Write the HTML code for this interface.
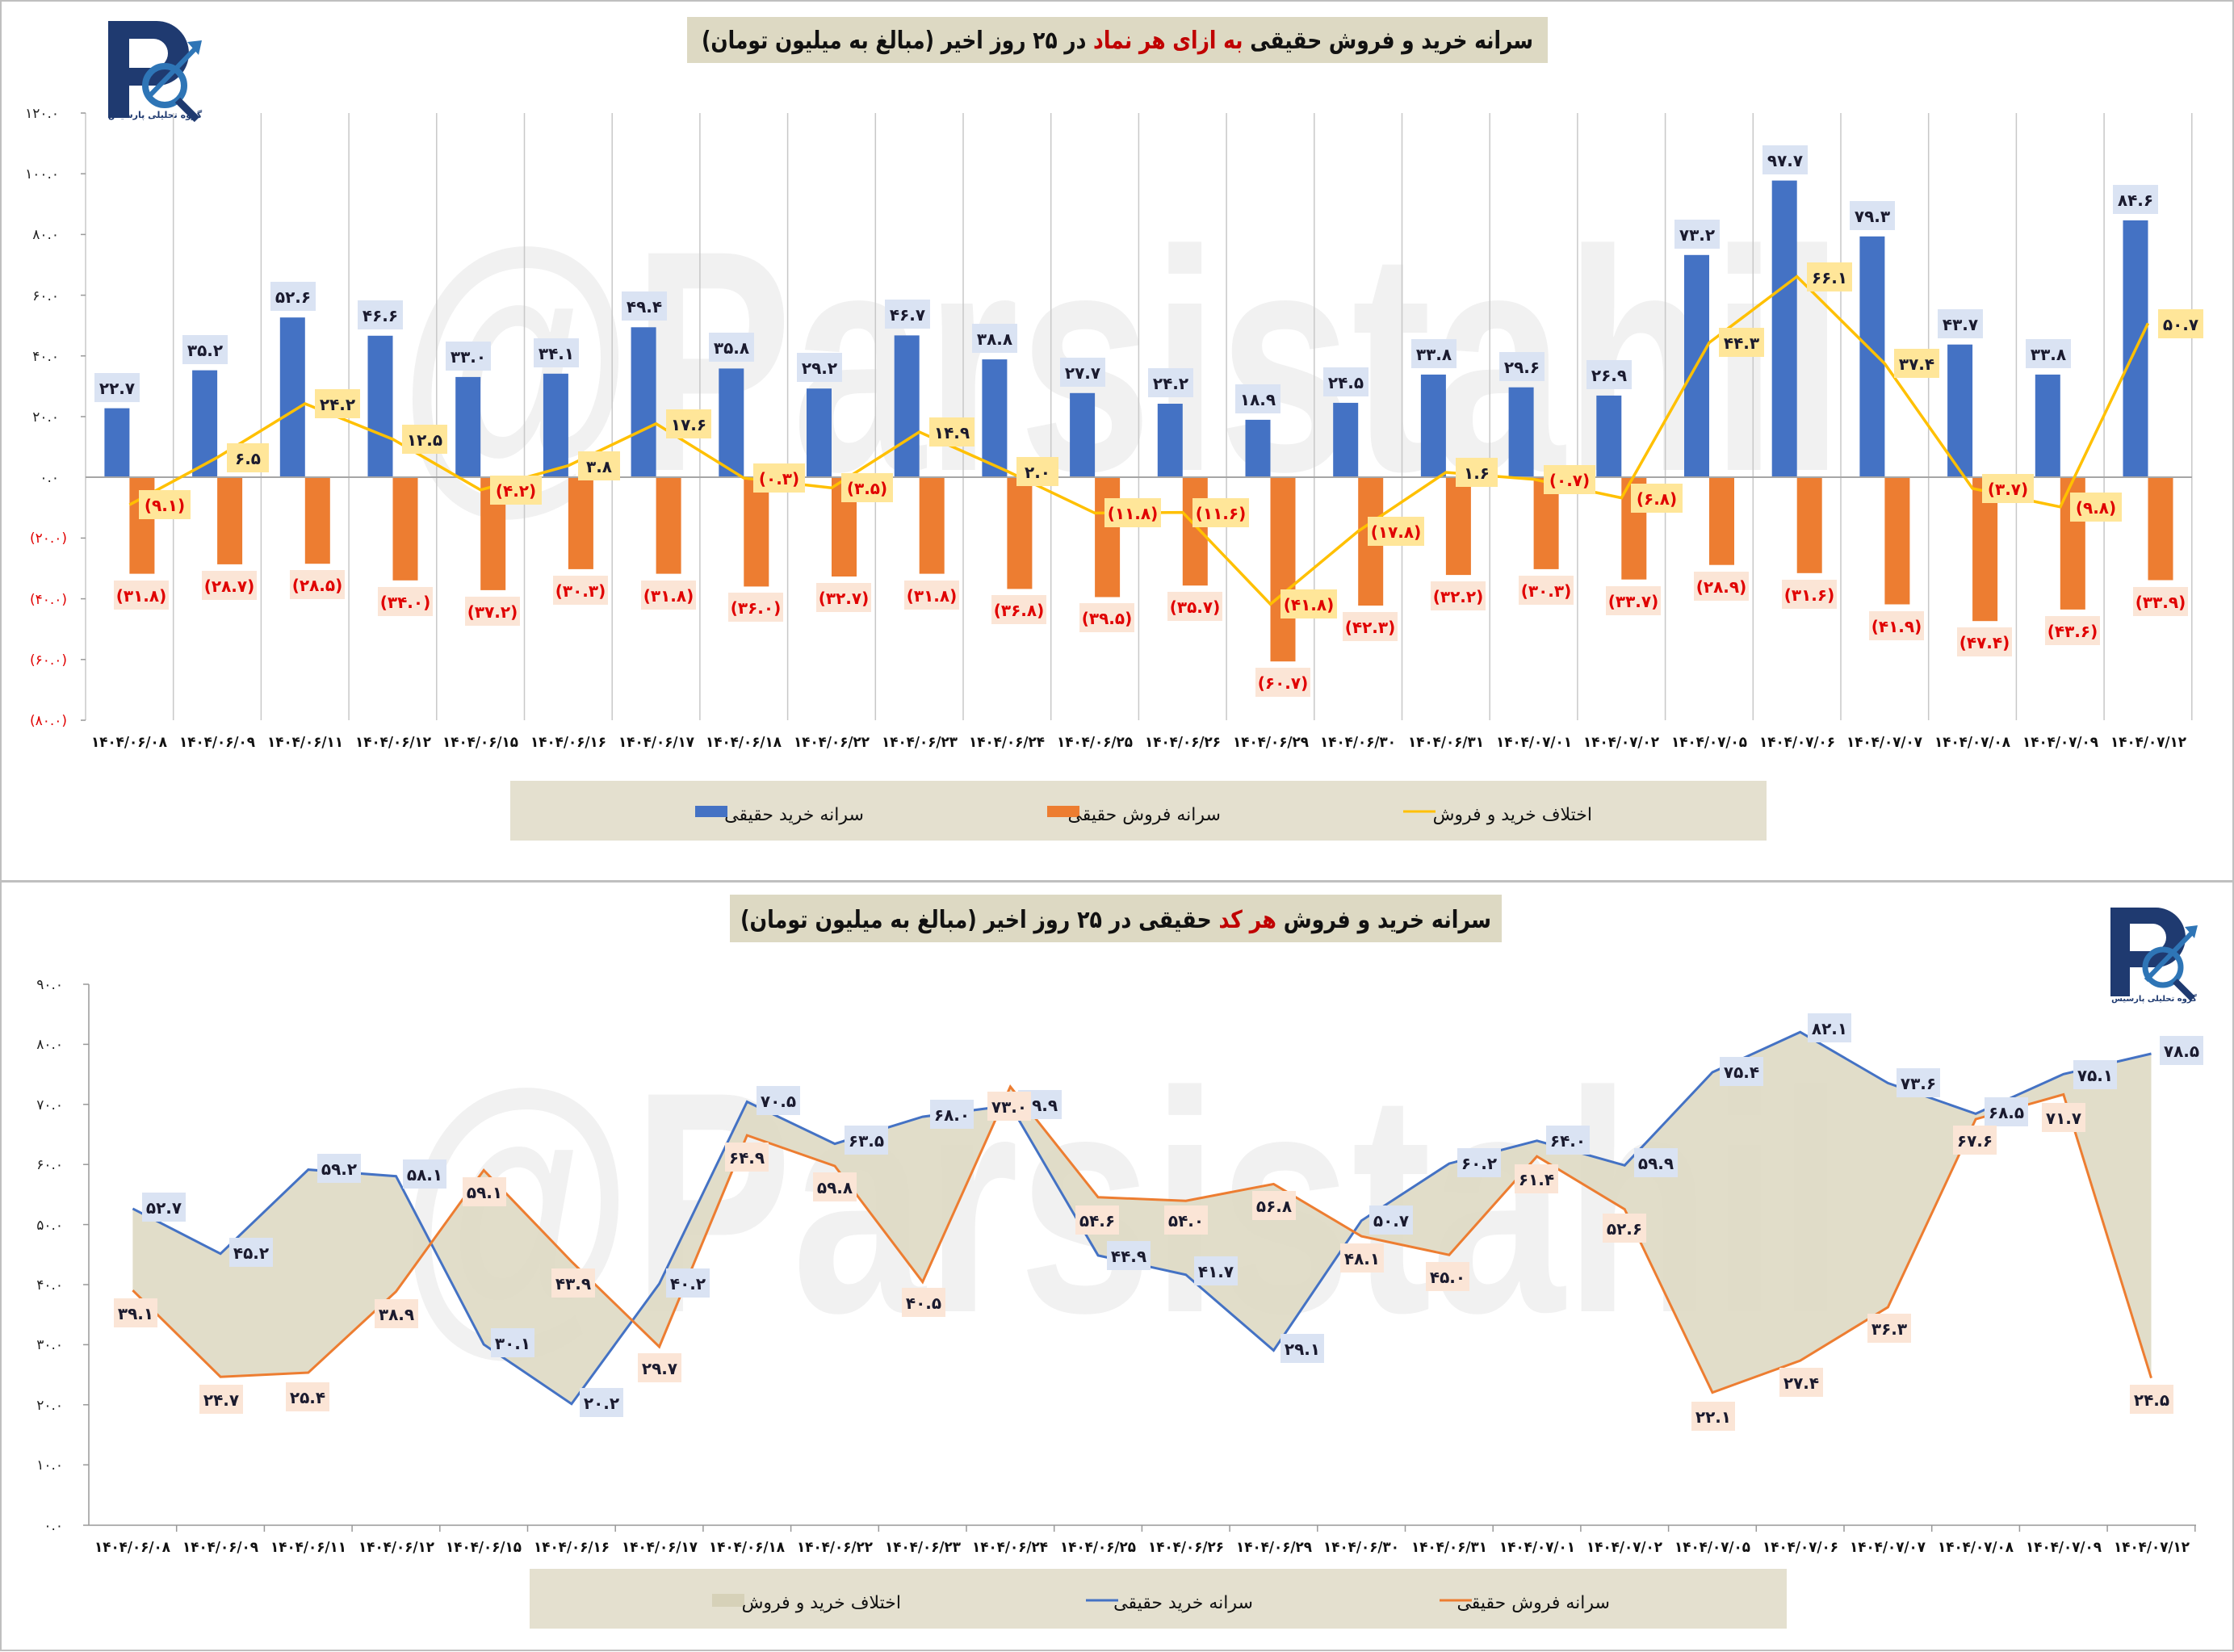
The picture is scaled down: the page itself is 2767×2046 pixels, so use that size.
<!DOCTYPE html>
<html><head><meta charset="utf-8">
<style>
html,body{margin:0;padding:0;background:#fff;}
svg{display:block;}
text{font-family:"DejaVu Sans","Liberation Sans","Noto Sans CJK SC",sans-serif;font-weight:bold;}
.bl{fill:#4472c4}.or{fill:#ed7d31}
.lb{fill:#dae3f3}.lo{fill:#fbe5d6}.ly{fill:#ffe699}
.tb{font-size:20px;fill:#1a1a2e;text-anchor:middle}
.tr{font-size:20px;fill:#e00000;text-anchor:middle}
.td{font-size:18px;fill:#111;text-anchor:start}
.ya{font-size:17px;fill:#222;text-anchor:end;font-weight:normal}
.yr{font-size:17px;fill:#e00000;text-anchor:end;font-weight:normal}
.wm{font-family:"Liberation Sans",sans-serif;font-size:390px;fill:#f1f1f1;font-weight:bold}
.lg{font-size:22px;fill:#111;font-weight:normal}
</style></head><body>
<svg width="2767" height="2046" viewBox="0 0 2767 2046" xmlns="http://www.w3.org/2000/svg">
<rect x="1" y="1" width="2765" height="1090" fill="#fff" stroke="#bfbfbf" stroke-width="2"/>
<rect x="1" y="1092" width="2765" height="952" fill="#fff" stroke="#bfbfbf" stroke-width="2"/>

<text class="wm" x="494" y="582" textLength="1790" lengthAdjust="spacingAndGlyphs">@Parsistahil</text>
<text class="wm" x="494" y="1624" textLength="1790" lengthAdjust="spacingAndGlyphs">@Parsistahil</text>

<!-- ===== TOP CHART ===== -->
<rect x="851" y="21" width="1066" height="57" fill="#ddd9c3"/>
<text x="1384" y="60" direction="rtl" text-anchor="middle" font-size="30" fill="#111" textLength="1030" lengthAdjust="spacingAndGlyphs">سرانه خرید و فروش حقیقی <tspan fill="#c00000">به ازای هر نماد</tspan> در ۲۵ روز اخیر (مبالغ به میلیون تومان)</text>

<g transform="translate(132,22)">
<rect x="2" y="4" width="26" height="120" fill="#1f3a70"/>
<path d="M28 4 H62 A40 40 0 0 1 62 84 H28 V62 H58 A18 18 0 0 0 58 26 H28Z" fill="#1f3a70"/>
<circle cx="72" cy="84" r="24" fill="none" stroke="#2e75b6" stroke-width="8"/>
<path d="M50 100 L112 36" stroke="#2e75b6" stroke-width="6"/><path d="M100 30 L118 28 L114 46Z" fill="#2e75b6"/>
<path d="M88 102 L112 126" stroke="#1f3a70" stroke-width="9"/>
<text x="60" y="124" font-size="11" fill="#1f3a70" text-anchor="middle" direction="rtl">گروه تحلیلی پارسیس</text>
</g>

<g stroke="#c8c8c8" stroke-width="1.5">
<line x1="106" y1="140" x2="106" y2="892"/><line x1="214.7" y1="140" x2="214.7" y2="892"/><line x1="323.4" y1="140" x2="323.4" y2="892"/><line x1="432.1" y1="140" x2="432.1" y2="892"/><line x1="540.8" y1="140" x2="540.8" y2="892"/><line x1="649.5" y1="140" x2="649.5" y2="892"/><line x1="758.2" y1="140" x2="758.2" y2="892"/><line x1="866.9" y1="140" x2="866.9" y2="892"/><line x1="975.6" y1="140" x2="975.6" y2="892"/><line x1="1084.3" y1="140" x2="1084.3" y2="892"/><line x1="1193" y1="140" x2="1193" y2="892"/><line x1="1301.7" y1="140" x2="1301.7" y2="892"/><line x1="1410.4" y1="140" x2="1410.4" y2="892"/><line x1="1519.1" y1="140" x2="1519.1" y2="892"/><line x1="1627.8" y1="140" x2="1627.8" y2="892"/><line x1="1736.5" y1="140" x2="1736.5" y2="892"/><line x1="1845.2" y1="140" x2="1845.2" y2="892"/><line x1="1953.9" y1="140" x2="1953.9" y2="892"/><line x1="2062.6" y1="140" x2="2062.6" y2="892"/><line x1="2171.3" y1="140" x2="2171.3" y2="892"/><line x1="2280" y1="140" x2="2280" y2="892"/><line x1="2388.7" y1="140" x2="2388.7" y2="892"/><line x1="2497.4" y1="140" x2="2497.4" y2="892"/><line x1="2606.1" y1="140" x2="2606.1" y2="892"/><line x1="2714.8" y1="140" x2="2714.8" y2="892"/>
</g>
<g stroke="#999" stroke-width="1.5">
<line x1="100" y1="140" x2="106" y2="140"/><line x1="100" y1="215.2" x2="106" y2="215.2"/><line x1="100" y1="290.4" x2="106" y2="290.4"/><line x1="100" y1="365.6" x2="106" y2="365.6"/><line x1="100" y1="440.8" x2="106" y2="440.8"/><line x1="100" y1="516" x2="106" y2="516"/><line x1="100" y1="666.4" x2="106" y2="666.4"/><line x1="100" y1="741.6" x2="106" y2="741.6"/><line x1="100" y1="816.8" x2="106" y2="816.8"/><line x1="100" y1="892" x2="106" y2="892"/>
</g>
<text class="ya" x="73" y="146">۱۲۰.۰</text>
<text class="ya" x="73" y="221">۱۰۰.۰</text>
<text class="ya" x="73" y="296">۸۰.۰</text>
<text class="ya" x="73" y="372">۶۰.۰</text>
<text class="ya" x="73" y="447">۴۰.۰</text>
<text class="ya" x="73" y="522">۲۰.۰</text>
<text class="ya" x="73" y="597">۰.۰</text>
<text class="yr" x="83" y="672">(۲۰.۰)</text>
<text class="yr" x="83" y="748">(۴۰.۰)</text>
<text class="yr" x="83" y="823">(۶۰.۰)</text>
<text class="yr" x="83" y="898">(۸۰.۰)</text>

<g class="bl">
<rect x="129.4" y="505.6" width="31" height="85.4"/><rect x="238.1" y="458.6" width="31" height="132.4"/><rect x="346.8" y="393.2" width="31" height="197.8"/><rect x="455.5" y="415.8" width="31" height="175.2"/><rect x="564.2" y="466.9" width="31" height="124.1"/><rect x="672.9" y="462.8" width="31" height="128.2"/><rect x="781.6" y="405.3" width="31" height="185.7"/><rect x="890.3" y="456.4" width="31" height="134.6"/><rect x="999" y="481.2" width="31" height="109.8"/><rect x="1107.7" y="415.4" width="31" height="175.6"/><rect x="1216.4" y="445.1" width="31" height="145.9"/><rect x="1325.1" y="486.8" width="31" height="104.2"/><rect x="1433.8" y="500" width="31" height="91"/><rect x="1542.5" y="519.9" width="31" height="71.1"/><rect x="1651.2" y="498.9" width="31" height="92.1"/><rect x="1759.9" y="463.9" width="31" height="127.1"/><rect x="1868.6" y="479.7" width="31" height="111.3"/><rect x="1977.3" y="489.9" width="31" height="101.1"/><rect x="2086" y="315.8" width="31" height="275.2"/><rect x="2194.7" y="223.6" width="31" height="367.4"/><rect x="2303.4" y="292.8" width="31" height="298.2"/><rect x="2412.1" y="426.7" width="31" height="164.3"/><rect x="2520.8" y="463.9" width="31" height="127.1"/><rect x="2629.5" y="272.9" width="31" height="318.1"/>
</g>
<g class="or">
<rect x="160.4" y="591" width="31" height="119.6"/><rect x="269.1" y="591" width="31" height="107.9"/><rect x="377.8" y="591" width="31" height="107.2"/><rect x="486.5" y="591" width="31" height="127.8"/><rect x="595.2" y="591" width="31" height="139.9"/><rect x="703.9" y="591" width="31" height="113.9"/><rect x="812.6" y="591" width="31" height="119.6"/><rect x="921.3" y="591" width="31" height="135.4"/><rect x="1030" y="591" width="31" height="123"/><rect x="1138.7" y="591" width="31" height="119.6"/><rect x="1247.4" y="591" width="31" height="138.4"/><rect x="1356.1" y="591" width="31" height="148.5"/><rect x="1464.8" y="591" width="31" height="134.2"/><rect x="1573.5" y="591" width="31" height="228.2"/><rect x="1682.2" y="591" width="31" height="159"/><rect x="1790.9" y="591" width="31" height="121.1"/><rect x="1899.6" y="591" width="31" height="113.9"/><rect x="2008.3" y="591" width="31" height="126.7"/><rect x="2117" y="591" width="31" height="108.7"/><rect x="2225.7" y="591" width="31" height="118.8"/><rect x="2334.4" y="591" width="31" height="157.5"/><rect x="2443.1" y="591" width="31" height="178.2"/><rect x="2551.8" y="591" width="31" height="163.9"/><rect x="2660.5" y="591" width="31" height="127.5"/>
</g>
<line x1="106" y1="591" x2="2715" y2="591" stroke="#a6a6a6" stroke-width="2"/>

<polyline fill="none" stroke="#ffc000" stroke-width="3.5" points="160.4,625.2 269.1,566.6 377.8,500 486.5,544 595.2,606.8 703.9,576.7 812.6,524.8 921.3,592.1 1030,604.2 1138.7,535 1247.4,583.5 1356.1,635.4 1464.8,634.6 1573.5,748.2 1682.2,657.9 1790.9,585 1899.6,593.6 2008.3,616.6 2117,424.4 2225.7,342.5 2334.4,450.4 2443.1,604.9 2551.8,627.8 2660.5,400.4"/>

<g>
<rect class="lb" x="117" y="462" width="56" height="36"/><text class="tb" x="145" y="488">۲۲.۷</text>
<rect class="lb" x="226" y="415" width="56" height="36"/><text class="tb" x="254" y="441">۳۵.۲</text>
<rect class="lb" x="335" y="349" width="56" height="36"/><text class="tb" x="363" y="375">۵۲.۶</text>
<rect class="lb" x="443" y="372" width="56" height="36"/><text class="tb" x="471" y="398">۴۶.۶</text>
<rect class="lb" x="552" y="423" width="56" height="36"/><text class="tb" x="580" y="449">۳۳.۰</text>
<rect class="lb" x="661" y="419" width="56" height="36"/><text class="tb" x="689" y="445">۳۴.۱</text>
<rect class="lb" x="770" y="361" width="56" height="36"/><text class="tb" x="798" y="387">۴۹.۴</text>
<rect class="lb" x="878" y="412" width="56" height="36"/><text class="tb" x="906" y="438">۳۵.۸</text>
<rect class="lb" x="987" y="437" width="56" height="36"/><text class="tb" x="1015" y="463">۲۹.۲</text>
<rect class="lb" x="1096" y="371" width="56" height="36"/><text class="tb" x="1124" y="397">۴۶.۷</text>
<rect class="lb" x="1204" y="401" width="56" height="36"/><text class="tb" x="1232" y="427">۳۸.۸</text>
<rect class="lb" x="1313" y="443" width="56" height="36"/><text class="tb" x="1341" y="469">۲۷.۷</text>
<rect class="lb" x="1422" y="456" width="56" height="36"/><text class="tb" x="1450" y="482">۲۴.۲</text>
<rect class="lb" x="1530" y="476" width="56" height="36"/><text class="tb" x="1558" y="502">۱۸.۹</text>
<rect class="lb" x="1639" y="455" width="56" height="36"/><text class="tb" x="1667" y="481">۲۴.۵</text>
<rect class="lb" x="1748" y="420" width="56" height="36"/><text class="tb" x="1776" y="446">۳۳.۸</text>
<rect class="lb" x="1857" y="436" width="56" height="36"/><text class="tb" x="1885" y="462">۲۹.۶</text>
<rect class="lb" x="1965" y="446" width="56" height="36"/><text class="tb" x="1993" y="472">۲۶.۹</text>
<rect class="lb" x="2074" y="272" width="56" height="36"/><text class="tb" x="2102" y="298">۷۳.۲</text>
<rect class="lb" x="2183" y="180" width="56" height="36"/><text class="tb" x="2211" y="206">۹۷.۷</text>
<rect class="lb" x="2291" y="249" width="56" height="36"/><text class="tb" x="2319" y="275">۷۹.۳</text>
<rect class="lb" x="2400" y="383" width="56" height="36"/><text class="tb" x="2428" y="409">۴۳.۷</text>
<rect class="lb" x="2509" y="420" width="56" height="36"/><text class="tb" x="2537" y="446">۳۳.۸</text>
<rect class="lb" x="2617" y="229" width="56" height="36"/><text class="tb" x="2645" y="255">۸۴.۶</text>
</g>
<g>
<rect class="lo" x="141" y="719" width="68" height="36"/><text class="tr" x="175" y="745">(۳۱.۸)</text>
<rect class="lo" x="250" y="707" width="68" height="36"/><text class="tr" x="284" y="733">(۲۸.۷)</text>
<rect class="lo" x="359" y="706" width="68" height="36"/><text class="tr" x="393" y="732">(۲۸.۵)</text>
<rect class="lo" x="468" y="727" width="68" height="36"/><text class="tr" x="502" y="753">(۳۴.۰)</text>
<rect class="lo" x="576" y="739" width="68" height="36"/><text class="tr" x="610" y="765">(۳۷.۲)</text>
<rect class="lo" x="685" y="713" width="68" height="36"/><text class="tr" x="719" y="739">(۳۰.۳)</text>
<rect class="lo" x="794" y="719" width="68" height="36"/><text class="tr" x="828" y="745">(۳۱.۸)</text>
<rect class="lo" x="902" y="734" width="68" height="36"/><text class="tr" x="936" y="760">(۳۶.۰)</text>
<rect class="lo" x="1011" y="722" width="68" height="36"/><text class="tr" x="1045" y="748">(۳۲.۷)</text>
<rect class="lo" x="1120" y="719" width="68" height="36"/><text class="tr" x="1154" y="745">(۳۱.۸)</text>
<rect class="lo" x="1228" y="737" width="68" height="36"/><text class="tr" x="1262" y="763">(۳۶.۸)</text>
<rect class="lo" x="1337" y="747" width="68" height="36"/><text class="tr" x="1371" y="773">(۳۹.۵)</text>
<rect class="lo" x="1446" y="733" width="68" height="36"/><text class="tr" x="1480" y="759">(۳۵.۷)</text>
<rect class="lo" x="1555" y="827" width="68" height="36"/><text class="tr" x="1589" y="853">(۶۰.۷)</text>
<rect class="lo" x="1663" y="758" width="68" height="36"/><text class="tr" x="1697" y="784">(۴۲.۳)</text>
<rect class="lo" x="1772" y="720" width="68" height="36"/><text class="tr" x="1806" y="746">(۳۲.۲)</text>
<rect class="lo" x="1881" y="713" width="68" height="36"/><text class="tr" x="1915" y="739">(۳۰.۳)</text>
<rect class="lo" x="1989" y="726" width="68" height="36"/><text class="tr" x="2023" y="752">(۳۳.۷)</text>
<rect class="lo" x="2098" y="708" width="68" height="36"/><text class="tr" x="2132" y="734">(۲۸.۹)</text>
<rect class="lo" x="2207" y="718" width="68" height="36"/><text class="tr" x="2241" y="744">(۳۱.۶)</text>
<rect class="lo" x="2315" y="757" width="68" height="36"/><text class="tr" x="2349" y="783">(۴۱.۹)</text>
<rect class="lo" x="2424" y="777" width="68" height="36"/><text class="tr" x="2458" y="803">(۴۷.۴)</text>
<rect class="lo" x="2533" y="763" width="68" height="36"/><text class="tr" x="2567" y="789">(۴۳.۶)</text>
<rect class="lo" x="2642" y="727" width="68" height="36"/><text class="tr" x="2676" y="753">(۳۳.۹)</text>
</g>
<g>
<rect class="ly" x="172" y="607" width="64" height="36"/><text class="tr" x="204" y="633">(۹.۱)</text>
<rect class="ly" x="281" y="549" width="52" height="36"/><text class="tb" x="307" y="575">۶.۵</text>
<rect class="ly" x="390" y="482" width="56" height="36"/><text class="tb" x="418" y="508">۲۴.۲</text>
<rect class="ly" x="498" y="526" width="56" height="36"/><text class="tb" x="526" y="552">۱۲.۵</text>
<rect class="ly" x="607" y="589" width="64" height="36"/><text class="tr" x="639" y="615">(۴.۲)</text>
<rect class="ly" x="716" y="559" width="52" height="36"/><text class="tb" x="742" y="585">۳.۸</text>
<rect class="ly" x="825" y="507" width="56" height="36"/><text class="tb" x="853" y="533">۱۷.۶</text>
<rect class="ly" x="933" y="574" width="64" height="36"/><text class="tr" x="965" y="600">(۰.۳)</text>
<rect class="ly" x="1042" y="586" width="64" height="36"/><text class="tr" x="1074" y="612">(۳.۵)</text>
<rect class="ly" x="1151" y="517" width="56" height="36"/><text class="tb" x="1179" y="543">۱۴.۹</text>
<rect class="ly" x="1259" y="566" width="52" height="36"/><text class="tb" x="1285" y="592">۲.۰</text>
<rect class="ly" x="1368" y="617" width="70" height="36"/><text class="tr" x="1403" y="643">(۱۱.۸)</text>
<rect class="ly" x="1477" y="617" width="70" height="36"/><text class="tr" x="1512" y="643">(۱۱.۶)</text>
<rect class="ly" x="1586" y="730" width="70" height="36"/><text class="tr" x="1621" y="756">(۴۱.۸)</text>
<rect class="ly" x="1694" y="640" width="70" height="36"/><text class="tr" x="1729" y="666">(۱۷.۸)</text>
<rect class="ly" x="1803" y="567" width="52" height="36"/><text class="tb" x="1829" y="593">۱.۶</text>
<rect class="ly" x="1912" y="576" width="64" height="36"/><text class="tr" x="1944" y="602">(۰.۷)</text>
<rect class="ly" x="2020" y="599" width="64" height="36"/><text class="tr" x="2052" y="625">(۶.۸)</text>
<rect class="ly" x="2129" y="406" width="56" height="36"/><text class="tb" x="2157" y="432">۴۴.۳</text>
<rect class="ly" x="2238" y="325" width="56" height="36"/><text class="tb" x="2266" y="351">۶۶.۱</text>
<rect class="ly" x="2346" y="432" width="56" height="36"/><text class="tb" x="2374" y="458">۳۷.۴</text>
<rect class="ly" x="2455" y="587" width="64" height="36"/><text class="tr" x="2487" y="613">(۳.۷)</text>
<rect class="ly" x="2564" y="610" width="64" height="36"/><text class="tr" x="2596" y="636">(۹.۸)</text>
<rect class="ly" x="2673" y="383" width="56" height="36"/><text class="tb" x="2701" y="409">۵۰.۷</text>
</g>

<g>
<text class="td" textLength="94" lengthAdjust="spacingAndGlyphs" x="113" y="925">۱۴۰۴/۰۶/۰۸</text><text class="td" textLength="94" lengthAdjust="spacingAndGlyphs" x="222" y="925">۱۴۰۴/۰۶/۰۹</text><text class="td" textLength="94" lengthAdjust="spacingAndGlyphs" x="331" y="925">۱۴۰۴/۰۶/۱۱</text><text class="td" textLength="94" lengthAdjust="spacingAndGlyphs" x="440" y="925">۱۴۰۴/۰۶/۱۲</text><text class="td" textLength="94" lengthAdjust="spacingAndGlyphs" x="548" y="925">۱۴۰۴/۰۶/۱۵</text><text class="td" textLength="94" lengthAdjust="spacingAndGlyphs" x="657" y="925">۱۴۰۴/۰۶/۱۶</text><text class="td" textLength="94" lengthAdjust="spacingAndGlyphs" x="766" y="925">۱۴۰۴/۰۶/۱۷</text><text class="td" textLength="94" lengthAdjust="spacingAndGlyphs" x="874" y="925">۱۴۰۴/۰۶/۱۸</text><text class="td" textLength="94" lengthAdjust="spacingAndGlyphs" x="983" y="925">۱۴۰۴/۰۶/۲۲</text><text class="td" textLength="94" lengthAdjust="spacingAndGlyphs" x="1092" y="925">۱۴۰۴/۰۶/۲۳</text><text class="td" textLength="94" lengthAdjust="spacingAndGlyphs" x="1200" y="925">۱۴۰۴/۰۶/۲۴</text><text class="td" textLength="94" lengthAdjust="spacingAndGlyphs" x="1309" y="925">۱۴۰۴/۰۶/۲۵</text><text class="td" textLength="94" lengthAdjust="spacingAndGlyphs" x="1418" y="925">۱۴۰۴/۰۶/۲۶</text><text class="td" textLength="94" lengthAdjust="spacingAndGlyphs" x="1527" y="925">۱۴۰۴/۰۶/۲۹</text><text class="td" textLength="94" lengthAdjust="spacingAndGlyphs" x="1635" y="925">۱۴۰۴/۰۶/۳۰</text><text class="td" textLength="94" lengthAdjust="spacingAndGlyphs" x="1744" y="925">۱۴۰۴/۰۶/۳۱</text><text class="td" textLength="94" lengthAdjust="spacingAndGlyphs" x="1853" y="925">۱۴۰۴/۰۷/۰۱</text><text class="td" textLength="94" lengthAdjust="spacingAndGlyphs" x="1961" y="925">۱۴۰۴/۰۷/۰۲</text><text class="td" textLength="94" lengthAdjust="spacingAndGlyphs" x="2070" y="925">۱۴۰۴/۰۷/۰۵</text><text class="td" textLength="94" lengthAdjust="spacingAndGlyphs" x="2179" y="925">۱۴۰۴/۰۷/۰۶</text><text class="td" textLength="94" lengthAdjust="spacingAndGlyphs" x="2287" y="925">۱۴۰۴/۰۷/۰۷</text><text class="td" textLength="94" lengthAdjust="spacingAndGlyphs" x="2396" y="925">۱۴۰۴/۰۷/۰۸</text><text class="td" textLength="94" lengthAdjust="spacingAndGlyphs" x="2505" y="925">۱۴۰۴/۰۷/۰۹</text><text class="td" textLength="94" lengthAdjust="spacingAndGlyphs" x="2614" y="925">۱۴۰۴/۰۷/۱۲</text>
</g>

<rect x="632" y="967" width="1556" height="74" fill="#e4e0cf"/>
<rect x="861" y="998" width="40" height="14" fill="#4472c4"/>
<text class="lg" x="1070" y="1016" direction="rtl">سرانه خرید حقیقی</text>
<rect x="1297" y="998" width="40" height="14" fill="#ed7d31"/>
<text class="lg" x="1512" y="1016" direction="rtl">سرانه فروش حقیقی</text>
<line x1="1738" y1="1005" x2="1778" y2="1005" stroke="#ffc000" stroke-width="3"/>
<text class="lg" x="1972" y="1016" direction="rtl">اختلاف خرید و فروش</text>

<!-- ===== BOTTOM CHART ===== -->
<rect x="904" y="1108" width="956" height="59" fill="#ddd9c3"/>
<text x="1382" y="1149" direction="rtl" text-anchor="middle" font-size="30" fill="#111" textLength="930" lengthAdjust="spacingAndGlyphs">سرانه خرید و فروش <tspan fill="#c00000">هر کد</tspan> حقیقی در ۲۵ روز اخیر (مبالغ به میلیون تومان)</text>

<g transform="translate(2612,1120)">
<rect x="2" y="4" width="24" height="110" fill="#1f3a70"/>
<path d="M26 4 H58 A37 37 0 0 1 58 78 H26 V58 H54 A17 17 0 0 0 54 24 H26Z" fill="#1f3a70"/>
<circle cx="67" cy="78" r="22" fill="none" stroke="#2e75b6" stroke-width="7"/>
<path d="M46 94 L104 34" stroke="#2e75b6" stroke-width="6"/><path d="M94 28 L110 26 L106 42Z" fill="#2e75b6"/>
<path d="M82 95 L104 117" stroke="#1f3a70" stroke-width="8"/>
<text x="56" y="120" font-size="10" fill="#1f3a70" text-anchor="middle" direction="rtl">گروه تحلیلی پارسیس</text>
</g>

<g stroke="#999" stroke-width="1.5">
<line x1="110" y1="1219" x2="110" y2="1889"/><line x1="110" y1="1889" x2="2720" y2="1889"/>
<line x1="103" y1="1219" x2="110" y2="1219"/><line x1="103" y1="1293.4" x2="110" y2="1293.4"/><line x1="103" y1="1367.8" x2="110" y2="1367.8"/><line x1="103" y1="1442.2" x2="110" y2="1442.2"/><line x1="103" y1="1516.6" x2="110" y2="1516.6"/><line x1="103" y1="1591" x2="110" y2="1591"/><line x1="103" y1="1665.4" x2="110" y2="1665.4"/><line x1="103" y1="1739.8" x2="110" y2="1739.8"/><line x1="103" y1="1814.2" x2="110" y2="1814.2"/><line x1="103" y1="1889" x2="110" y2="1889"/>
<line x1="218.7" y1="1889" x2="218.7" y2="1897"/><line x1="327.4" y1="1889" x2="327.4" y2="1897"/><line x1="436.1" y1="1889" x2="436.1" y2="1897"/><line x1="544.8" y1="1889" x2="544.8" y2="1897"/><line x1="653.5" y1="1889" x2="653.5" y2="1897"/><line x1="762.2" y1="1889" x2="762.2" y2="1897"/><line x1="870.9" y1="1889" x2="870.9" y2="1897"/><line x1="979.6" y1="1889" x2="979.6" y2="1897"/><line x1="1088.3" y1="1889" x2="1088.3" y2="1897"/><line x1="1197" y1="1889" x2="1197" y2="1897"/><line x1="1305.7" y1="1889" x2="1305.7" y2="1897"/><line x1="1414.4" y1="1889" x2="1414.4" y2="1897"/><line x1="1523.1" y1="1889" x2="1523.1" y2="1897"/><line x1="1631.8" y1="1889" x2="1631.8" y2="1897"/><line x1="1740.5" y1="1889" x2="1740.5" y2="1897"/><line x1="1849.2" y1="1889" x2="1849.2" y2="1897"/><line x1="1957.9" y1="1889" x2="1957.9" y2="1897"/><line x1="2066.6" y1="1889" x2="2066.6" y2="1897"/><line x1="2175.3" y1="1889" x2="2175.3" y2="1897"/><line x1="2284" y1="1889" x2="2284" y2="1897"/><line x1="2392.7" y1="1889" x2="2392.7" y2="1897"/><line x1="2501.4" y1="1889" x2="2501.4" y2="1897"/><line x1="2610.1" y1="1889" x2="2610.1" y2="1897"/><line x1="2718.8" y1="1889" x2="2718.8" y2="1897"/>
</g>
<text class="ya" x="78" y="1225">۹۰.۰</text>
<text class="ya" x="78" y="1299">۸۰.۰</text>
<text class="ya" x="78" y="1374">۷۰.۰</text>
<text class="ya" x="78" y="1448">۶۰.۰</text>
<text class="ya" x="78" y="1523">۵۰.۰</text>
<text class="ya" x="78" y="1597">۴۰.۰</text>
<text class="ya" x="78" y="1671">۳۰.۰</text>
<text class="ya" x="78" y="1746">۲۰.۰</text>
<text class="ya" x="78" y="1820">۱۰.۰</text>
<text class="ya" x="78" y="1895">۰.۰</text>

<polygon fill="#ddd8c2" fill-opacity="0.88" points="164.4,1496.9 273.1,1552.7 381.8,1448.6 490.5,1456.7 599.2,1665.1 707.9,1738.7 816.6,1589.9 925.3,1364.5 1034,1416.6 1142.7,1383.1 1251.4,1369 1360.1,1554.9 1468.8,1578.8 1577.5,1672.5 1686.2,1511.8 1794.9,1441.1 1903.6,1412.8 2012.3,1443.3 2121,1328 2229.7,1278.2 2338.4,1341.4 2447.1,1379.4 2555.8,1330.3 2664.5,1305 2664.5,1706.7 2555.8,1355.5 2447.1,1386.1 2338.4,1618.9 2229.7,1685.1 2121,1724.6 2012.3,1497.7 1903.6,1432.2 1794.9,1554.2 1686.2,1531.1 1577.5,1466.4 1468.8,1487.2 1360.1,1482.8 1251.4,1345.9 1142.7,1587.7 1034,1444.1 925.3,1406.1 816.6,1668 707.9,1562.4 599.2,1449.3 490.5,1599.6 381.8,1700 273.1,1705.2 164.4,1598.1"/>
<polyline fill="none" stroke="#4472c4" stroke-width="3" points="164.4,1496.9 273.1,1552.7 381.8,1448.6 490.5,1456.7 599.2,1665.1 707.9,1738.7 816.6,1589.9 925.3,1364.5 1034,1416.6 1142.7,1383.1 1251.4,1369 1360.1,1554.9 1468.8,1578.8 1577.5,1672.5 1686.2,1511.8 1794.9,1441.1 1903.6,1412.8 2012.3,1443.3 2121,1328 2229.7,1278.2 2338.4,1341.4 2447.1,1379.4 2555.8,1330.3 2664.5,1305"/>
<polyline fill="none" stroke="#ed7d31" stroke-width="3" points="164.4,1598.1 273.1,1705.2 381.8,1700 490.5,1599.6 599.2,1449.3 707.9,1562.4 816.6,1668 925.3,1406.1 1034,1444.1 1142.7,1587.7 1251.4,1345.9 1360.1,1482.8 1468.8,1487.2 1577.5,1466.4 1686.2,1531.1 1794.9,1554.2 1903.6,1432.2 2012.3,1497.7 2121,1724.6 2229.7,1685.1 2338.4,1618.9 2447.1,1386.1 2555.8,1355.5 2664.5,1706.7"/>

<g>
<rect class="lb" x="176" y="1477" width="54" height="36"/><text class="tb" x="203" y="1503">۵۲.۷</text>
<rect class="lb" x="284" y="1533" width="54" height="36"/><text class="tb" x="311" y="1559">۴۵.۲</text>
<rect class="lb" x="393" y="1429" width="54" height="36"/><text class="tb" x="420" y="1455">۵۹.۲</text>
<rect class="lb" x="499" y="1436" width="54" height="36"/><text class="tb" x="526" y="1462">۵۸.۱</text>
<rect class="lb" x="608" y="1645" width="54" height="36"/><text class="tb" x="635" y="1671">۳۰.۱</text>
<rect class="lb" x="718" y="1719" width="54" height="36"/><text class="tb" x="745" y="1745">۲۰.۲</text>
<rect class="lb" x="825" y="1571" width="54" height="36"/><text class="tb" x="852" y="1597">۴۰.۲</text>
<rect class="lb" x="937" y="1345" width="54" height="36"/><text class="tb" x="964" y="1371">۷۰.۵</text>
<rect class="lb" x="1046" y="1394" width="54" height="36"/><text class="tb" x="1073" y="1420">۶۳.۵</text>
<rect class="lb" x="1152" y="1362" width="54" height="36"/><text class="tb" x="1179" y="1388">۶۸.۰</text>
<rect class="lb" x="1261" y="1350" width="54" height="36"/><text class="tb" x="1288" y="1376">۶۹.۹</text>
<rect class="lb" x="1371" y="1537" width="54" height="36"/><text class="tb" x="1398" y="1563">۴۴.۹</text>
<rect class="lb" x="1479" y="1556" width="54" height="36"/><text class="tb" x="1506" y="1582">۴۱.۷</text>
<rect class="lb" x="1586" y="1652" width="54" height="36"/><text class="tb" x="1613" y="1678">۲۹.۱</text>
<rect class="lb" x="1696" y="1493" width="54" height="36"/><text class="tb" x="1723" y="1519">۵۰.۷</text>
<rect class="lb" x="1805" y="1422" width="54" height="36"/><text class="tb" x="1832" y="1448">۶۰.۲</text>
<rect class="lb" x="1915" y="1394" width="54" height="36"/><text class="tb" x="1942" y="1420">۶۴.۰</text>
<rect class="lb" x="2024" y="1422" width="54" height="36"/><text class="tb" x="2051" y="1448">۵۹.۹</text>
<rect class="lb" x="2130" y="1309" width="54" height="36"/><text class="tb" x="2157" y="1335">۷۵.۴</text>
<rect class="lb" x="2239" y="1255" width="54" height="36"/><text class="tb" x="2266" y="1281">۸۲.۱</text>
<rect class="lb" x="2349" y="1323" width="54" height="36"/><text class="tb" x="2376" y="1349">۷۳.۶</text>
<rect class="lb" x="2458" y="1359" width="54" height="36"/><text class="tb" x="2485" y="1385">۶۸.۵</text>
<rect class="lb" x="2568" y="1313" width="54" height="36"/><text class="tb" x="2595" y="1339">۷۵.۱</text>
<rect class="lb" x="2675" y="1283" width="54" height="36"/><text class="tb" x="2702" y="1309">۷۸.۵</text>
</g>
<g>
<rect class="lo" x="141" y="1608" width="54" height="36"/><text class="tb" x="168" y="1634">۳۹.۱</text>
<rect class="lo" x="247" y="1715" width="54" height="36"/><text class="tb" x="274" y="1741">۲۴.۷</text>
<rect class="lo" x="354" y="1712" width="54" height="36"/><text class="tb" x="381" y="1738">۲۵.۴</text>
<rect class="lo" x="464" y="1609" width="54" height="36"/><text class="tb" x="491" y="1635">۳۸.۹</text>
<rect class="lo" x="573" y="1458" width="54" height="36"/><text class="tb" x="600" y="1484">۵۹.۱</text>
<rect class="lo" x="683" y="1571" width="54" height="36"/><text class="tb" x="710" y="1597">۴۳.۹</text>
<rect class="lo" x="790" y="1676" width="54" height="36"/><text class="tb" x="817" y="1702">۲۹.۷</text>
<rect class="lo" x="898" y="1415" width="54" height="36"/><text class="tb" x="925" y="1441">۶۴.۹</text>
<rect class="lo" x="1007" y="1452" width="54" height="36"/><text class="tb" x="1034" y="1478">۵۹.۸</text>
<rect class="lo" x="1117" y="1595" width="54" height="36"/><text class="tb" x="1144" y="1621">۴۰.۵</text>
<rect class="lo" x="1223" y="1352" width="54" height="36"/><text class="tb" x="1250" y="1378">۷۳.۰</text>
<rect class="lo" x="1332" y="1493" width="54" height="36"/><text class="tb" x="1359" y="1519">۵۴.۶</text>
<rect class="lo" x="1442" y="1493" width="54" height="36"/><text class="tb" x="1469" y="1519">۵۴.۰</text>
<rect class="lo" x="1551" y="1475" width="54" height="36"/><text class="tb" x="1578" y="1501">۵۶.۸</text>
<rect class="lo" x="1660" y="1540" width="54" height="36"/><text class="tb" x="1687" y="1566">۴۸.۱</text>
<rect class="lo" x="1766" y="1563" width="54" height="36"/><text class="tb" x="1793" y="1589">۴۵.۰</text>
<rect class="lo" x="1876" y="1442" width="54" height="36"/><text class="tb" x="1903" y="1468">۶۱.۴</text>
<rect class="lo" x="1985" y="1503" width="54" height="36"/><text class="tb" x="2012" y="1529">۵۲.۶</text>
<rect class="lo" x="2095" y="1736" width="54" height="36"/><text class="tb" x="2122" y="1762">۲۲.۱</text>
<rect class="lo" x="2204" y="1694" width="54" height="36"/><text class="tb" x="2231" y="1720">۲۷.۴</text>
<rect class="lo" x="2313" y="1627" width="54" height="36"/><text class="tb" x="2340" y="1653">۳۶.۳</text>
<rect class="lo" x="2419" y="1394" width="54" height="36"/><text class="tb" x="2446" y="1420">۶۷.۶</text>
<rect class="lo" x="2529" y="1366" width="54" height="36"/><text class="tb" x="2556" y="1392">۷۱.۷</text>
<rect class="lo" x="2638" y="1715" width="54" height="36"/><text class="tb" x="2665" y="1741">۲۴.۵</text>
</g>

<g>
<text class="td" textLength="94" lengthAdjust="spacingAndGlyphs" x="117" y="1922">۱۴۰۴/۰۶/۰۸</text><text class="td" textLength="94" lengthAdjust="spacingAndGlyphs" x="226" y="1922">۱۴۰۴/۰۶/۰۹</text><text class="td" textLength="94" lengthAdjust="spacingAndGlyphs" x="335" y="1922">۱۴۰۴/۰۶/۱۱</text><text class="td" textLength="94" lengthAdjust="spacingAndGlyphs" x="444" y="1922">۱۴۰۴/۰۶/۱۲</text><text class="td" textLength="94" lengthAdjust="spacingAndGlyphs" x="552" y="1922">۱۴۰۴/۰۶/۱۵</text><text class="td" textLength="94" lengthAdjust="spacingAndGlyphs" x="661" y="1922">۱۴۰۴/۰۶/۱۶</text><text class="td" textLength="94" lengthAdjust="spacingAndGlyphs" x="770" y="1922">۱۴۰۴/۰۶/۱۷</text><text class="td" textLength="94" lengthAdjust="spacingAndGlyphs" x="878" y="1922">۱۴۰۴/۰۶/۱۸</text><text class="td" textLength="94" lengthAdjust="spacingAndGlyphs" x="987" y="1922">۱۴۰۴/۰۶/۲۲</text><text class="td" textLength="94" lengthAdjust="spacingAndGlyphs" x="1096" y="1922">۱۴۰۴/۰۶/۲۳</text><text class="td" textLength="94" lengthAdjust="spacingAndGlyphs" x="1204" y="1922">۱۴۰۴/۰۶/۲۴</text><text class="td" textLength="94" lengthAdjust="spacingAndGlyphs" x="1313" y="1922">۱۴۰۴/۰۶/۲۵</text><text class="td" textLength="94" lengthAdjust="spacingAndGlyphs" x="1422" y="1922">۱۴۰۴/۰۶/۲۶</text><text class="td" textLength="94" lengthAdjust="spacingAndGlyphs" x="1531" y="1922">۱۴۰۴/۰۶/۲۹</text><text class="td" textLength="94" lengthAdjust="spacingAndGlyphs" x="1639" y="1922">۱۴۰۴/۰۶/۳۰</text><text class="td" textLength="94" lengthAdjust="spacingAndGlyphs" x="1748" y="1922">۱۴۰۴/۰۶/۳۱</text><text class="td" textLength="94" lengthAdjust="spacingAndGlyphs" x="1857" y="1922">۱۴۰۴/۰۷/۰۱</text><text class="td" textLength="94" lengthAdjust="spacingAndGlyphs" x="1965" y="1922">۱۴۰۴/۰۷/۰۲</text><text class="td" textLength="94" lengthAdjust="spacingAndGlyphs" x="2074" y="1922">۱۴۰۴/۰۷/۰۵</text><text class="td" textLength="94" lengthAdjust="spacingAndGlyphs" x="2183" y="1922">۱۴۰۴/۰۷/۰۶</text><text class="td" textLength="94" lengthAdjust="spacingAndGlyphs" x="2291" y="1922">۱۴۰۴/۰۷/۰۷</text><text class="td" textLength="94" lengthAdjust="spacingAndGlyphs" x="2400" y="1922">۱۴۰۴/۰۷/۰۸</text><text class="td" textLength="94" lengthAdjust="spacingAndGlyphs" x="2509" y="1922">۱۴۰۴/۰۷/۰۹</text><text class="td" textLength="94" lengthAdjust="spacingAndGlyphs" x="2618" y="1922">۱۴۰۴/۰۷/۱۲</text>
</g>

<rect x="656" y="1943" width="1557" height="74" fill="#e4e0cf"/>
<rect x="882" y="1974" width="40" height="16" fill="#d6d1b8"/>
<text class="lg" x="1116" y="1992" direction="rtl">اختلاف خرید و فروش</text>
<line x1="1345" y1="1982" x2="1385" y2="1982" stroke="#4472c4" stroke-width="3"/>
<text class="lg" x="1552" y="1992" direction="rtl">سرانه خرید حقیقی</text>
<line x1="1783" y1="1982" x2="1823" y2="1982" stroke="#ed7d31" stroke-width="3"/>
<text class="lg" x="1994" y="1992" direction="rtl">سرانه فروش حقیقی</text>
</svg>
</body></html>
